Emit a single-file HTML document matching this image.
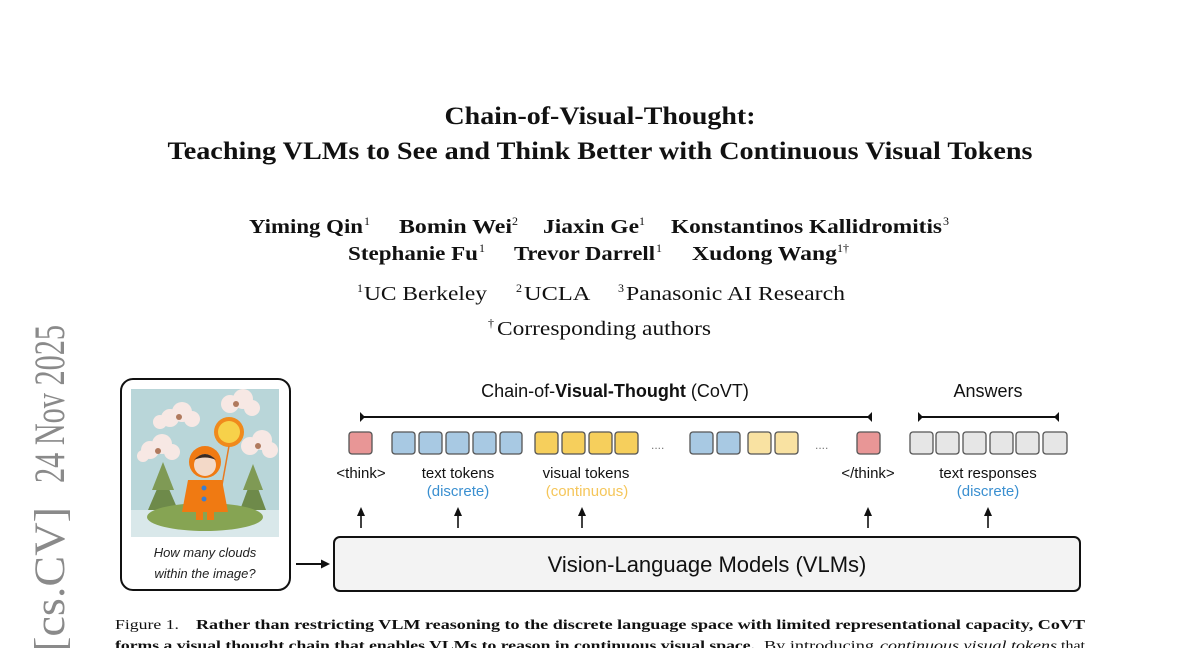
<!DOCTYPE html>
<html><head><meta charset="utf-8"><style>
html,body{margin:0;padding:0;background:#fff;width:1200px;height:648px;overflow:hidden}
svg{display:block}
</style></head><body>
<svg width="1200" height="648" viewBox="0 0 1200 648" xmlns="http://www.w3.org/2000/svg">
<!-- arXiv side stamp -->
<g font-family="'Liberation Serif','Times New Roman',serif" fill="#8a8a8a" font-size="43">
<text transform="translate(64,325) rotate(-90)" text-anchor="end" textLength="158" lengthAdjust="spacingAndGlyphs">24 Nov 2025</text>
<text transform="translate(64,507) rotate(-90)" text-anchor="end" textLength="145" lengthAdjust="spacingAndGlyphs">[cs.CV]</text>
</g>

<!-- Title -->
<g font-family="'Liberation Serif','Times New Roman',serif" font-weight="bold" fill="#111" text-anchor="middle">
<text x="600" y="124" font-size="25" textLength="311" lengthAdjust="spacingAndGlyphs">Chain-of-Visual-Thought:</text>
<text x="600" y="159" font-size="25" textLength="865" lengthAdjust="spacingAndGlyphs">Teaching VLMs to See and Think Better with Continuous Visual Tokens</text>
</g>
<g font-family="'Liberation Serif','Times New Roman',serif" fill="#111" font-size="20">
<text y="233" font-weight="bold">
<tspan x="249" textLength="114" lengthAdjust="spacingAndGlyphs">Yiming Qin</tspan><tspan x="364" y="225" font-size="12" font-weight="normal">1</tspan>
<tspan x="399" y="233" textLength="113" lengthAdjust="spacingAndGlyphs">Bomin Wei</tspan><tspan x="512" y="225" font-size="12" font-weight="normal">2</tspan>
<tspan x="543" y="233" textLength="96" lengthAdjust="spacingAndGlyphs">Jiaxin Ge</tspan><tspan x="639" y="225" font-size="12" font-weight="normal">1</tspan>
<tspan x="671" y="233" textLength="271" lengthAdjust="spacingAndGlyphs">Konstantinos Kallidromitis</tspan><tspan x="943" y="225" font-size="12" font-weight="normal">3</tspan>
</text>
<text y="260" font-weight="bold">
<tspan x="348" textLength="130" lengthAdjust="spacingAndGlyphs">Stephanie Fu</tspan><tspan x="479" y="252" font-size="12" font-weight="normal">1</tspan>
<tspan x="514" y="260" textLength="141" lengthAdjust="spacingAndGlyphs">Trevor Darrell</tspan><tspan x="656" y="252" font-size="12" font-weight="normal">1</tspan>
<tspan x="692" y="260" textLength="145" lengthAdjust="spacingAndGlyphs">Xudong Wang</tspan><tspan x="837" y="252" font-size="12" font-weight="normal">1†</tspan>
</text>
<text y="300">
<tspan x="357" y="292" font-size="12">1</tspan><tspan x="364" y="300" textLength="123" lengthAdjust="spacingAndGlyphs">UC Berkeley</tspan>
<tspan x="516" y="292" font-size="12">2</tspan><tspan x="524" y="300" textLength="65" lengthAdjust="spacingAndGlyphs">UCLA</tspan>
<tspan x="618" y="292" font-size="12">3</tspan><tspan x="626" y="300" textLength="219" lengthAdjust="spacingAndGlyphs">Panasonic AI Research</tspan>
</text>
<text y="335">
<tspan x="488" y="327" font-size="12">†</tspan><tspan x="497" y="335" textLength="214" lengthAdjust="spacingAndGlyphs">Corresponding authors</tspan>
</text>
</g>

<!-- Image box -->
<rect x="121" y="379" width="169" height="211" rx="12" fill="#fff" stroke="#111" stroke-width="2"/>
<defs><clipPath id="ic"><rect x="131" y="389" width="148" height="148"/></clipPath></defs>
<g clip-path="url(#ic)">
<rect x="131" y="389" width="148" height="148" fill="#b9d6d9"/>
<rect x="131" y="510" width="148" height="27" fill="#d9e8ea"/>
<g fill="#f7e8e4">
<circle cx="170" cy="418" r="9"/><circle cx="182" cy="412" r="10"/><circle cx="192" cy="419" r="8"/><circle cx="160" cy="422" r="7"/>
<circle cx="230" cy="404" r="9"/><circle cx="243" cy="399" r="10"/><circle cx="252" cy="408" r="8"/>
<circle cx="150" cy="450" r="9"/><circle cx="162" cy="444" r="10"/><circle cx="172" cy="452" r="8"/><circle cx="143" cy="456" r="6"/>
<circle cx="250" cy="446" r="9"/><circle cx="262" cy="440" r="10"/><circle cx="270" cy="450" r="8"/>
</g>
<g fill="#b07a5e"><circle cx="179" cy="417" r="3"/><circle cx="236" cy="404" r="3"/><circle cx="158" cy="451" r="3"/><circle cx="258" cy="446" r="3"/></g>
<circle cx="229" cy="432" r="15" fill="#f08a1c"/><circle cx="229" cy="432" r="11" fill="#f7d14a"/>
<line x1="229" y1="446" x2="222" y2="485" stroke="#e87a20" stroke-width="1.5"/>
<polygon points="163,475 148,510 178,510" fill="#6e8a4a"/><polygon points="163,462 152,490 174,490" fill="#7f9a55"/>
<polygon points="253,475 240,510 266,510" fill="#6e8a4a"/><polygon points="253,464 243,490 263,490" fill="#7f9a55"/>
<ellipse cx="205" cy="517" rx="58" ry="14" fill="#86a453"/>
<path d="M188 480 L222 480 L228 512 L182 512 Z" fill="#f07a12"/>
<circle cx="205" cy="462" r="16" fill="#f07a12"/><circle cx="205" cy="465" r="11" fill="#f3d9c8"/>
<path d="M194 460 Q205 448 216 460 Q205 455 194 460Z" fill="#3a2a22"/>
<rect x="196" y="510" width="7" height="10" fill="#f07a12"/><rect x="207" y="510" width="7" height="10" fill="#f07a12"/>
<circle cx="204" cy="488" r="2.5" fill="#3c7ed0"/><circle cx="204" cy="499" r="2.5" fill="#3c7ed0"/>
</g>
<g font-family="'Liberation Sans',sans-serif" font-style="italic" font-size="13" fill="#222" text-anchor="middle">
<text x="205" y="557">How many clouds</text>
<text x="205" y="578">within the image?</text>
</g>
<line x1="296" y1="564" x2="322" y2="564" stroke="#111" stroke-width="2"/>
<polygon points="330,564 321,559.5 321,568.5" fill="#111"/>

<rect x="334" y="537" width="746" height="54" rx="6" fill="#f3f3f3" stroke="#111" stroke-width="2"/>
<text font-family="'Liberation Sans',sans-serif" x="707" y="572" font-size="22" text-anchor="middle" fill="#111">Vision-Language Models (VLMs)</text>

<text font-family="'Liberation Sans',sans-serif" x="615" y="397" font-size="18" text-anchor="middle" fill="#111">Chain-of-<tspan font-weight="bold">Visual-Thought</tspan> (CoVT)</text>
<text font-family="'Liberation Sans',sans-serif" x="988" y="397" font-size="18" text-anchor="middle" fill="#111">Answers</text>
<g stroke="#111" stroke-width="2">
<line x1="360" y1="417" x2="872" y2="417"/><line x1="918" y1="417" x2="1059" y2="417"/>
</g>
<g fill="#111">
<polygon points="360,412 360,422 365,417"/><polygon points="872,412 872,422 867,417"/>
<polygon points="918,412 918,422 923,417"/><polygon points="1059,412 1059,422 1054,417"/>
</g>

<g stroke="#555" stroke-width="1.3">
<rect x="349" y="432" width="23" height="22" rx="3" fill="#e89696"/>
<g fill="#a8c9e3">
<rect x="392" y="432" width="23" height="22" rx="3"/><rect x="419" y="432" width="23" height="22" rx="3"/><rect x="446" y="432" width="23" height="22" rx="3"/><rect x="473" y="432" width="23" height="22" rx="3"/><rect x="500" y="432" width="22" height="22" rx="3"/>
<rect x="690" y="432" width="23" height="22" rx="3"/><rect x="717" y="432" width="23" height="22" rx="3"/>
</g>
<g fill="#f6cf5c">
<rect x="535" y="432" width="23" height="22" rx="3"/><rect x="562" y="432" width="23" height="22" rx="3"/><rect x="589" y="432" width="23" height="22" rx="3"/><rect x="615" y="432" width="23" height="22" rx="3"/>
</g>
<g fill="#f9e2a2">
<rect x="748" y="432" width="23" height="22" rx="3"/><rect x="775" y="432" width="23" height="22" rx="3"/>
</g>
<rect x="857" y="432" width="23" height="22" rx="3" fill="#e89696"/>
<g fill="#e6e6e6">
<rect x="910" y="432" width="23" height="22" rx="3"/><rect x="936" y="432" width="23" height="22" rx="3"/><rect x="963" y="432" width="23" height="22" rx="3"/><rect x="990" y="432" width="23" height="22" rx="3"/><rect x="1016" y="432" width="23" height="22" rx="3"/><rect x="1043" y="432" width="24" height="22" rx="3"/>
</g>
</g>
<g font-family="'Liberation Sans',sans-serif" font-size="12" fill="#777"><text x="651" y="449">....</text><text x="815" y="449">....</text></g>

<g font-family="'Liberation Sans',sans-serif" font-size="15" text-anchor="middle" fill="#111">
<text x="361" y="478">&lt;think&gt;</text>
<text x="458" y="478">text tokens</text>
<text x="586" y="478">visual tokens</text>
<text x="868" y="478">&lt;/think&gt;</text>
<text x="988" y="478">text responses</text>
<text x="458" y="496" fill="#3a8fd0">(discrete)</text>
<text x="587" y="496" fill="#f5c65a">(continuous)</text>
<text x="988" y="496" fill="#3a8fd0">(discrete)</text>
</g>
<g stroke="#111" stroke-width="1.6">
<line x1="361" y1="528" x2="361" y2="514"/><line x1="458" y1="528" x2="458" y2="514"/><line x1="582" y1="528" x2="582" y2="514"/><line x1="868" y1="528" x2="868" y2="514"/><line x1="988" y1="528" x2="988" y2="514"/>
</g>
<g fill="#111">
<polygon points="361,507 357,516 365,516"/><polygon points="458,507 454,516 462,516"/><polygon points="582,507 578,516 586,516"/><polygon points="868,507 864,516 872,516"/><polygon points="988,507 984,516 992,516"/>
</g>

<g font-family="'Liberation Serif','Times New Roman',serif" font-size="14" fill="#111">
<text y="629"><tspan x="115" textLength="64" lengthAdjust="spacingAndGlyphs">Figure 1.</tspan><tspan x="196" font-weight="bold" textLength="889" lengthAdjust="spacingAndGlyphs">Rather than restricting VLM reasoning to the discrete language space with limited representational capacity, CoVT</tspan></text>
<text y="650"><tspan x="115" font-weight="bold" textLength="640" lengthAdjust="spacingAndGlyphs">forms a visual thought chain that enables VLMs to reason in continuous visual space.</tspan><tspan x="764" textLength="110" lengthAdjust="spacingAndGlyphs">By introducing</tspan><tspan x="880" font-style="italic" textLength="177" lengthAdjust="spacingAndGlyphs">continuous visual tokens</tspan><tspan x="1061" textLength="24" lengthAdjust="spacingAndGlyphs">that</tspan></text>
</g>
</svg>
</body></html>
